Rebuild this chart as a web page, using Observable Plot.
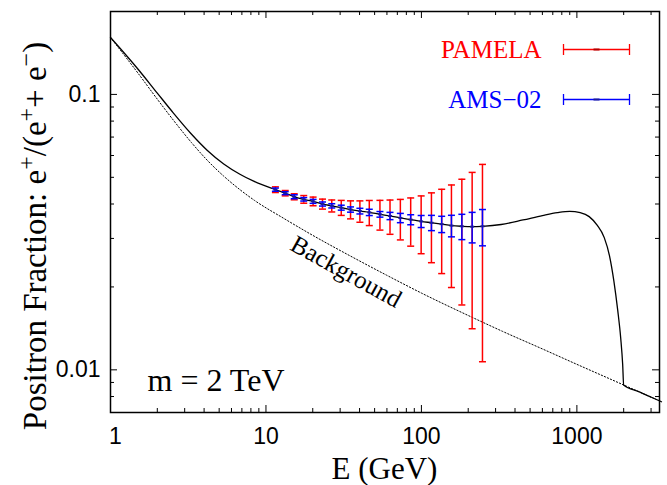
<!DOCTYPE html>
<html><head><meta charset="utf-8">
<script src="https://cdn.jsdelivr.net/npm/d3@7"></script>
<script src="https://cdn.jsdelivr.net/npm/@observablehq/plot@0.6"></script>
<style>body{margin:0;background:#fff}#chart{width:667px;height:485px}</style>
</head><body><div id="chart"></div>
<script>
// measured points (GeV) and their central positron fraction
const dataE = [11.5, 13.3, 15.2, 17.5, 20.1, 23.1, 26.5, 30.5, 35.0, 40.2, 46.2, 54.1, 62.8, 73.2, 85.3, 99.6, 116, 135, 156, 182, 212, 247];
const dataF = [0.0451, 0.0438, 0.0425, 0.0416, 0.0409, 0.0400, 0.0394, 0.0388, 0.0382, 0.0377, 0.0373, 0.0367, 0.0362, 0.0356, 0.0351, 0.0346, 0.0342, 0.0338, 0.0334, 0.0332, 0.0331, 0.0332];
const pamelaErr = [0.00107, 0.00098, 0.00107, 0.00133, 0.00148, 0.00167, 0.00197, 0.00243, 0.00287, 0.00336, 0.0039, 0.00454, 0.00515, 0.00597, 0.00698, 0.0082, 0.00971, 0.01144, 0.0135, 0.016, 0.019, 0.0225];
const amsErr = [0.0006, 0.00055, 0.0007, 0.0006, 0.00068, 0.00068, 0.0007, 0.0008, 0.00084, 0.00089, 0.00098, 0.00086, 0.0011, 0.00138, 0.00147, 0.00174, 0.00218, 0.0023, 0.003, 0.0035, 0.0042, 0.005];

// model: background + dark matter (m = 2 TeV)
const totalE = [1, 1.5, 2, 2.5, 3.3, 4.2, 5.35, 6.8, 8.4, 11.5, 13.3, 15.2, 17.5, 20.1, 23.1, 26.5, 30.5, 35, 40.2, 46.2, 54.1, 62.8, 73.2, 85.3, 99.6, 116, 135, 156, 182, 212, 247, 326, 450, 600, 750, 900, 1050, 1200, 1350, 1500, 1620, 1730, 1830, 1915, 1970, 2000, 2500, 3000, 3500];
const totalF = [0.161, 0.1237, 0.1011, 0.0865, 0.0720, 0.0626, 0.0559, 0.0513, 0.0483, 0.0451, 0.0438, 0.0425, 0.0416, 0.0409, 0.0400, 0.0394, 0.0388, 0.0382, 0.0377, 0.0373, 0.0367, 0.0362, 0.0356, 0.0351, 0.0346, 0.0342, 0.0338, 0.0334, 0.0332, 0.0331, 0.0332, 0.0337, 0.0350, 0.0363, 0.0372, 0.0376, 0.0372, 0.0360, 0.0335, 0.0302, 0.0260, 0.0210, 0.0165, 0.0130, 0.0105, 0.00881, 0.00833, 0.00796, 0.00766];
// background only
const bgE = [1, 1.5, 2, 2.5, 3.3, 4.2, 5.35, 6.8, 8.4, 13.1, 20, 35, 60, 100, 210, 330, 600, 1000, 2000, 2500, 3000, 3500];
const bgF = [0.161, 0.1196, 0.0961, 0.0815, 0.0671, 0.0576, 0.0505, 0.0451, 0.0413, 0.0354, 0.03078, 0.02588, 0.02203, 0.0190, 0.01555, 0.01382, 0.01191, 0.01047, 0.00881, 0.00833, 0.00796, 0.00766];

const xTicks = [1, 10, 100, 1000];
const xMinor = [2,3,4,5,6,7,8,9,20,30,40,50,60,70,80,90,200,300,400,500,600,700,800,900,2000,3000];
const yTicks = [0.01, 0.1];
const yMinor = [0.008, 0.009, 0.02, 0.03, 0.04, 0.05, 0.06, 0.07, 0.08, 0.09];

const seriesNames = ["PAMELA", "AMS\u221202"];
const seriesColors = ["#ff0000", "#0000ff"];
const markColors = ["#b00000", "#1a1a9a"];

const W = 667, H = 485, mL = 110, mR = 8, mT = 11, mB = 73;
const fH = H - mT - mB, fW = W - mL - mR;
const serif = "'Liberation Serif','Times New Roman',serif";
const sans = "'Liberation Sans',Arial,Helvetica,sans-serif";

const pts = dataE.map((e, i) => ({E: e, F: dataF[i], pe: pamelaErr[i], ae: amsErr[i]}));
const total = totalE.map((e, i) => ({E: e, F: totalF[i]}));
const bg = bgE.map((e, i) => ({E: e, F: bgF[i]}));

const hbar = w => ({draw(ctx) { ctx.moveTo(-w, 0); ctx.lineTo(w, 0); }});
const legendBar = (w, c) => ({draw(ctx) {
  ctx.moveTo(-w, 0); ctx.lineTo(w, 0);
  ctx.moveTo(-w, -c); ctx.lineTo(-w, c);
  ctx.moveTo(w, -c); ctx.lineTo(w, c);
}});

function errMarks(key, color) {
  return [
    Plot.ruleX(pts, {x: "E", y1: d => d.F - d[key], y2: d => d.F + d[key], stroke: color, strokeWidth: 1.5}),
    Plot.dot(pts, {x: "E", y: d => d.F - d[key], symbol: hbar(3.5), fill: "none", stroke: color, strokeWidth: 1.5}),
    Plot.dot(pts, {x: "E", y: d => d.F + d[key], symbol: hbar(3.5), fill: "none", stroke: color, strokeWidth: 1.5})
  ];
}

function legendEntry(i, dy) {
  return [
    Plot.text([seriesNames[i]], {text: d => d, frameAnchor: "top-right", dx: -118, dy, textAnchor: "end", lineAnchor: "middle", fill: seriesColors[i], fontSize: 25, fontFamily: serif}),
    Plot.dot([0], {frameAnchor: "top-right", dx: -63, dy, symbol: legendBar(33, 5.5), fill: "none", stroke: seriesColors[i], strokeWidth: 1.3}),
    Plot.dot([0], {frameAnchor: "top-right", dx: -63, dy, symbol: hbar(3), fill: "none", stroke: markColors[i], strokeWidth: 2})
  ];
}

const tickText = {tickSize: 0, fontSize: 23, fill: "#000", tickFormat: d => String(d), label: null};

const chart = Plot.plot({
  width: W, height: H,
  marginLeft: mL, marginRight: mR, marginTop: mT, marginBottom: mB,
  style: {fontFamily: sans, background: "#fff", color: "#000"},
  x: {type: "log", domain: [1, 3400]},
  y: {type: "log", domain: [0.007, 0.2]},
  marks: [
    Plot.line(bg, {x: "E", y: "F", stroke: "#000", strokeWidth: 1, strokeDasharray: "1.3,2", curve: "monotone-x"}),
    Plot.line(total, {x: "E", y: "F", stroke: "#000", strokeWidth: 1.3, curve: "monotone-x"}),
    ...errMarks("pe", seriesColors[0]),
    ...errMarks("ae", seriesColors[1]),
    Plot.dot(pts, {x: "E", y: "F", symbol: hbar(2), fill: "none", stroke: markColors[1], strokeWidth: 2}),
    // ticks (inward, mirrored)
    Plot.tickX(xTicks, {x: d => d, insetTop: fH - 7, stroke: "#000"}),
    Plot.tickX(xTicks, {x: d => d, insetBottom: fH - 7, stroke: "#000"}),
    Plot.tickX(xMinor, {x: d => d, insetTop: fH - 4, stroke: "#000"}),
    Plot.tickX(xMinor, {x: d => d, insetBottom: fH - 4, stroke: "#000"}),
    Plot.tickY(yTicks, {y: d => d, insetRight: fW - 7, stroke: "#000"}),
    Plot.tickY(yTicks, {y: d => d, insetLeft: fW - 7, stroke: "#000"}),
    Plot.tickY(yMinor, {y: d => d, insetRight: fW - 4, stroke: "#000"}),
    Plot.tickY(yMinor, {y: d => d, insetLeft: fW - 4, stroke: "#000"}),
    Plot.axisX(xTicks.slice(0, 1), {...tickText, tickPadding: 15, dx: 5}),
    Plot.axisX(xTicks.slice(1), {...tickText, tickPadding: 15}),
    Plot.axisY(yTicks, {...tickText, tickPadding: 10}),
    Plot.frame({stroke: "#000", strokeWidth: 1.5}),
    // legend
    ...legendEntry(0, 38),
    ...legendEntry(1, 88),
    // annotations
    Plot.text([{E: 32.8, F: 0.0227}], {x: "E", y: "F", text: () => "Background", rotate: 29, fontSize: 25, fontFamily: serif, fill: "#000"}),
    Plot.text(["m = 2 TeV"], {text: d => d, frameAnchor: "bottom-left", dx: 37, dy: -32, textAnchor: "start", lineAnchor: "middle", fontSize: 32, fontFamily: serif, fill: "#000"})
  ]
});

const svg = d3.select(chart);
// axis titles
svg.append("text")
  .attr("x", mL + fW / 2).attr("y", 479)
  .attr("text-anchor", "middle")
  .style("font-family", serif).style("font-size", "31px").attr("fill", "#000")
  .text("E (GeV)");

const yt = svg.append("text")
  .attr("transform", "translate(46,236) rotate(-90)")
  .attr("text-anchor", "middle")
  .style("font-family", serif).style("font-size", "33px").attr("fill", "#000");
const parts = [["Positron Fraction: e", 0], ["+", 1], ["/(e", 0], ["+", 1], ["+ e", 0], ["\u2212", 1], [")", 0]];
let prevSup = 0;
for (const [t, sup] of parts) {
  const dy = sup && !prevSup ? -12 : (!sup && prevSup ? 12 : 0);
  yt.append("tspan").attr("dy", dy).style("font-size", sup ? "24px" : null).text(t);
  prevSup = sup;
}

document.getElementById("chart").appendChild(chart);
</script>
</body></html>
